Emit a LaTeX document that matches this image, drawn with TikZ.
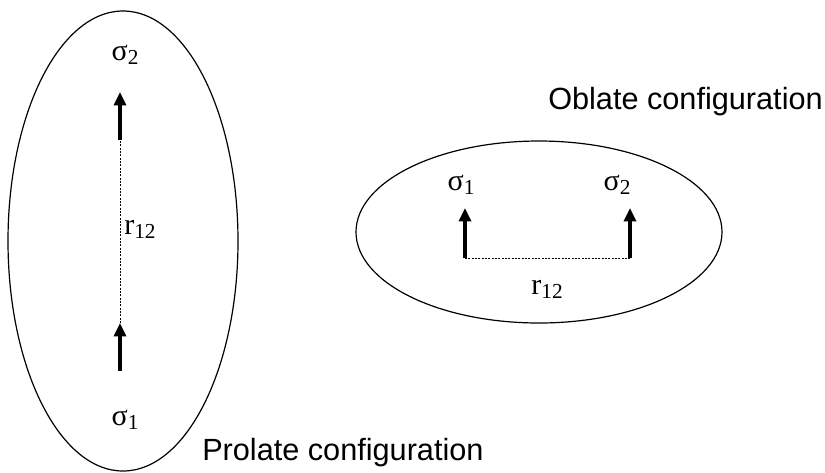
\documentclass[tikz,border=0pt]{standalone}
\usepackage{fontspec}
\setmainfont{Liberation Serif}
\newfontfamily\labelfont{Liberation Sans}
\usetikzlibrary{arrows.meta}
\newcommand{\sub}[1]{\raisebox{-0.3ex}{\fontsize{16}{18}\selectfont #1}}

\begin{document}
\begin{tikzpicture}[x=0.75pt, y=-0.75pt,
    spin/.style={line width=3.2pt, -{Triangle[length=10pt, width=9pt]}},
    bond/.style={line width=0.6pt, dash pattern=on 1.5pt off 1pt},
    sym/.style={font=\fontsize{22.5}{26}\selectfont},
    caption/.style={font=\labelfont\fontsize{23}{27}\selectfont, anchor=west},
    every node/.style={inner sep=0pt}]
  \useasboundingbox (0,0) rectangle (825,472);
  % Prolat
  \draw[line width=0.9pt] (123,241) ellipse [x radius=86.25pt, y radius=172.5pt];
  \coordinate (p1a) at (120,371);
  \coordinate (p1b) at (120,323);
  \coordinate (p2a) at (120,140);
  \coordinate (p2b) at (120,92);
  \draw[bond] (p1b) -- (p2a);
  \draw[spin] (p1a) -- (p1b);
  \draw[spin] (p2a) -- (p2b);
  \node[sym] (ps2) at (125,55) {σ\sub{2}};
  \node[sym] (ps1) at (125,420) {σ\sub{1}};
  \node[sym] (pr) at (140,229) {r\sub{12}};
  \node[caption] (prolate) at (202,453) {Prolate configuration};
  % Oblat
  \draw[line width=0.9pt] (539,232) ellipse [x radius=137.25pt, y radius=68.25pt];
  \coordinate (o1a) at (465,258);
  \coordinate (o1b) at (465,208);
  \coordinate (o2a) at (630,258);
  \coordinate (o2b) at (630,208);
  \draw[bond] (o1a) -- (o2a);
  \draw[spin] (o1a) -- (o1b);
  \draw[spin] (o2a) -- (o2b);
  \node[sym] (os1) at (461,185) {σ\sub{1}};
  \node[sym] (os2) at (617,185) {σ\sub{2}};
  \node[sym] (or) at (547,289) {r\sub{12}};
  \node[caption] (oblate) at (548,102) {Oblate configuration};
\end{tikzpicture}
\end{document}
